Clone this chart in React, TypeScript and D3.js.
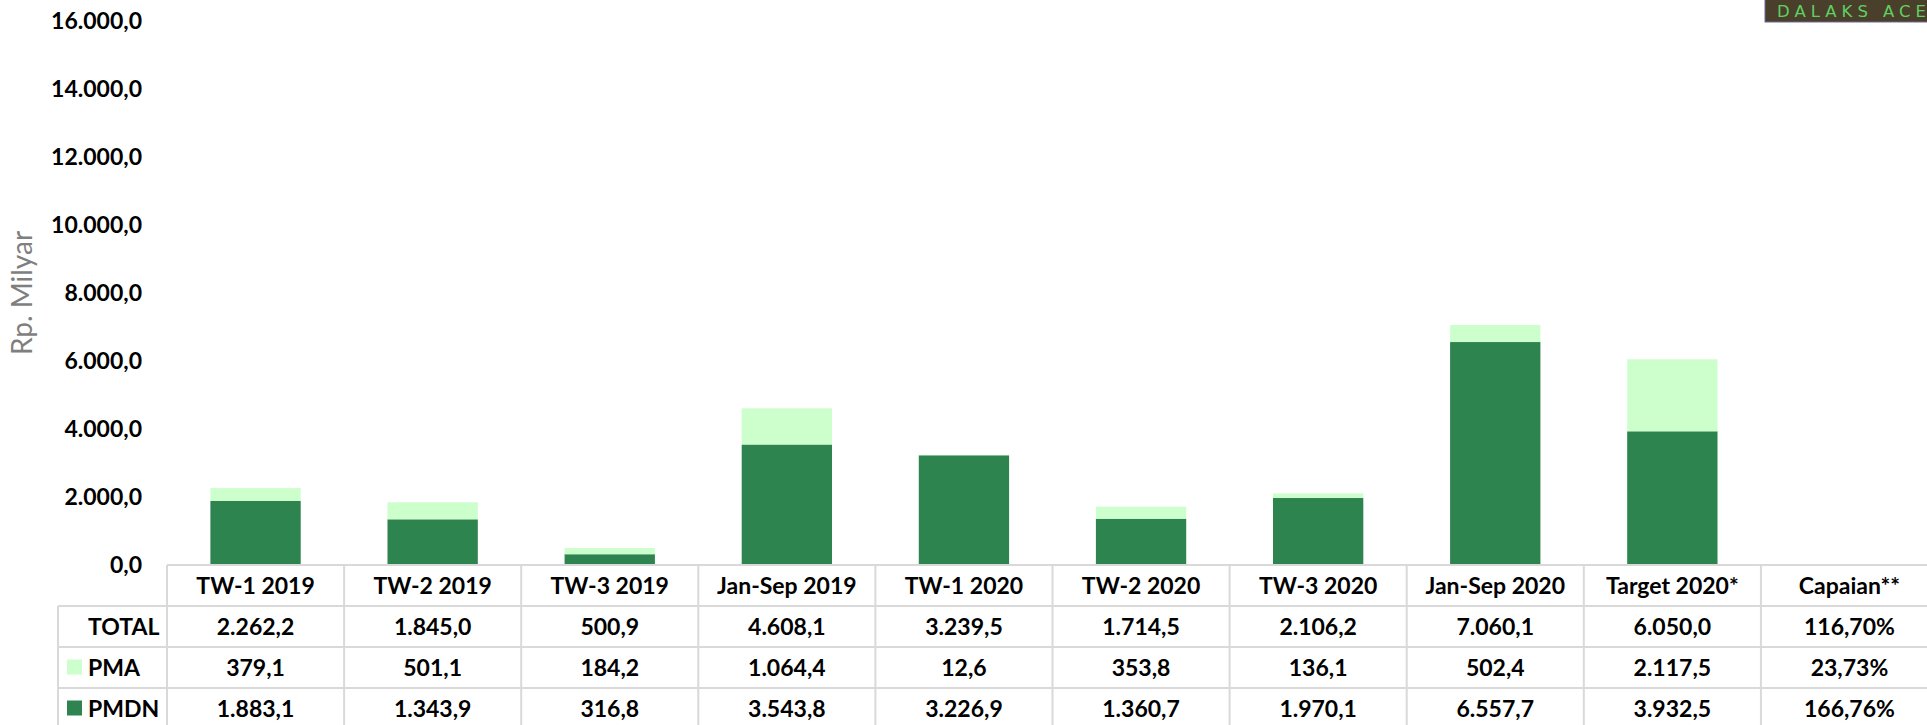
import React from "react";
import { scaleBand, scaleLinear, formatLocale } from "d3";

// categories along the x axis / table columns
const categories = [
  "TW-1 2019",
  "TW-2 2019",
  "TW-3 2019",
  "Jan-Sep 2019",
  "TW-1 2020",
  "TW-2 2020",
  "TW-3 2020",
  "Jan-Sep 2020",
  "Target 2020*",
  "Capaian**",
];

// series values (Rp. Milyar) - Capaian has no bar
const pmdn = [1883.1, 1343.9, 316.8, 3543.8, 3226.9, 1360.7, 1970.1, 6557.7, 3932.5, null];
const pma = [379.1, 501.1, 184.2, 1064.4, 12.6, 353.8, 136.1, 502.4, 2117.5, null];

// table row texts
const totalRow = ["2.262,2", "1.845,0", "500,9", "4.608,1", "3.239,5", "1.714,5", "2.106,2", "7.060,1", "6.050,0", "116,70%"];
const pmaRow = ["379,1", "501,1", "184,2", "1.064,4", "12,6", "353,8", "136,1", "502,4", "2.117,5", "23,73%"];
const pmdnRow = ["1.883,1", "1.343,9", "316,8", "3.543,8", "3.226,9", "1.360,7", "1.970,1", "6.557,7", "3.932,5", "166,76%"];

const yTicks = [0, 2000, 4000, 6000, 8000, 10000, 12000, 14000, 16000];

const DARK = "#2e844f";
const LIGHT = "#ccffcc";
const GRID = "#d9d9d9";
const FONT = "Lato, 'Open Sans', sans-serif";

const idFormat = formatLocale({
  decimal: ",",
  thousands: ".",
  grouping: [3],
  currency: ["Rp", ""],
});
const fmt = idFormat.format(",.1f");

export default function App() {
  const width = 1927;
  const height = 725;
  const left = 167;
  const colW = 177.1;
  const base = 565;
  const rowH = 41;

  const y = scaleLinear().domain([0, 16000]).range([base, 21]);
  const x = scaleBand<string>()
    .domain(categories)
    .range([left, left + colW * categories.length])
    .paddingInner(0.49)
    .paddingOuter(0.245);
  const cols = scaleBand<string>()
    .domain(categories)
    .range([left, left + colW * categories.length]);

  const rows = [
    { label: "TOTAL", values: totalRow, key: null as string | null },
    { label: "PMA", values: pmaRow, key: LIGHT },
    { label: "PMDN", values: pmdnRow, key: DARK },
  ];
  const tableRight = left + colW * categories.length;

  return (
    <svg
      width={width}
      height={height}
      style={{ position: "absolute", left: 0, top: 0, background: "#fff" }}
      fontFamily={FONT}
    >
      {/* y axis tick labels */}
      {yTicks.map((t) => (
        <text
          key={t}
          x={142}
          y={y(t)}
          dy="0.36em"
          textAnchor="end"
          fontSize={23}
          fontWeight="bold"
          fill="#000"
        >
          {fmt(t)}
        </text>
      ))}

      {/* y axis title */}
      <text
        transform="translate(32,293) rotate(-90)"
        textAnchor="middle"
        fontSize={28}
        fill="#7f7f7f"
      >
        Rp. Milyar
      </text>

      {/* stacked bars */}
      {categories.map((c, i) => {
        const d = pmdn[i];
        const a = pma[i];
        if (d == null || a == null) return null;
        return (
          <g key={c}>
            <rect x={x(c)} width={x.bandwidth()} y={y(d)} height={y(0) - y(d)} fill={DARK} />
            <rect x={x(c)} width={x.bandwidth()} y={y(d + a)} height={y(d) - y(d + a)} fill={LIGHT} />
          </g>
        );
      })}

      {/* data table */}
      <g stroke={GRID} strokeWidth={2}>
        <line x1={left} x2={tableRight} y1={base} y2={base} />
        {[1, 2, 3, 4].map((r) => (
          <line key={r} x1={58} x2={tableRight} y1={base + r * rowH} y2={base + r * rowH} />
        ))}
        <line x1={58} x2={58} y1={base + rowH} y2={height} />
        {categories.map((c) => (
          <line key={c} x1={cols(c)} x2={cols(c)} y1={base} y2={height} />
        ))}
      </g>

      {categories.map((c) => (
        <text
          key={c}
          x={(cols(c) as number) + cols.bandwidth() / 2}
          y={base + rowH / 2}
          dy="0.36em"
          textAnchor="middle"
          fontSize={23}
          fontWeight="bold"
        >
          {c}
        </text>
      ))}

      {rows.map((r, ri) => {
        const cy = base + rowH * (ri + 1) + rowH / 2;
        return (
          <g key={r.label}>
            {r.key && <rect x={67} y={cy - 8} width={15} height={15} fill={r.key} />}
            <text x={88} y={cy} dy="0.36em" fontSize={23} fontWeight="bold">
              {r.label}
            </text>
            {categories.map((c, i) => (
              <text
                key={c}
                x={(cols(c) as number) + cols.bandwidth() / 2}
                y={cy}
                dy="0.36em"
                textAnchor="middle"
                fontSize={23}
                fontWeight="bold"
              >
                {r.values[i]}
              </text>
            ))}
          </g>
        );
      })}

      {/* watermark */}
      <rect x={1765} y={-1} width={180} height={23} fill="#4a3f2b" stroke="#6b6b9b" strokeWidth={1} />
      <text
        x={1777}
        y={11}
        dy="0.36em"
        fontFamily="'DejaVu Sans', sans-serif"
        fontSize={16.5}
        letterSpacing={5}
        fill="#5fd062"
      >
        DALAKS ACEH
      </text>
    </svg>
  );
}
